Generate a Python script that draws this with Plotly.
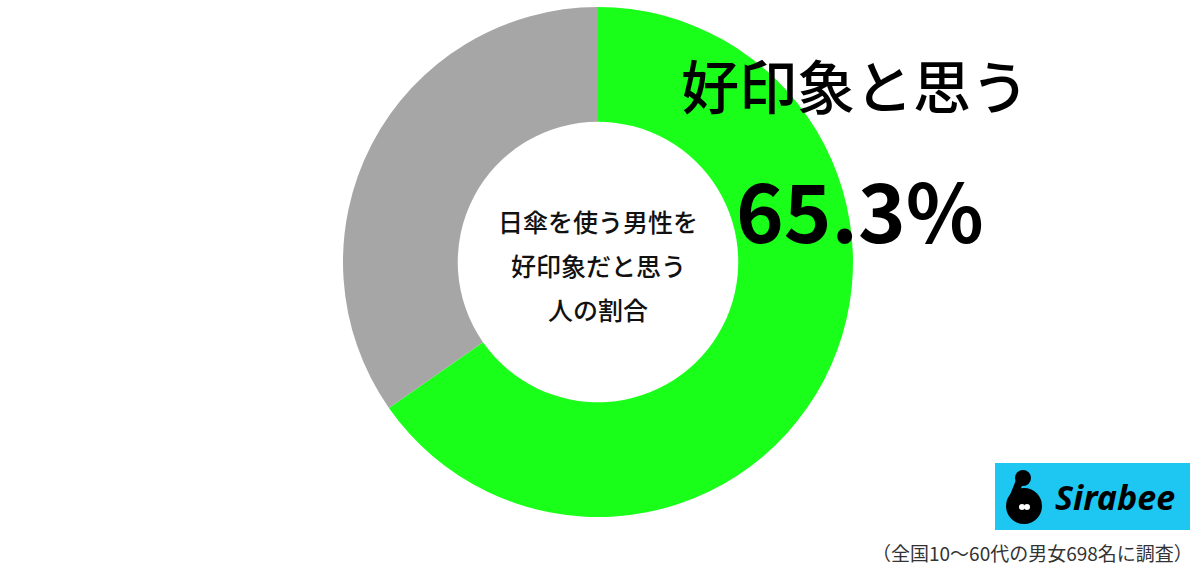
import plotly.graph_objects as go

labels = ["好印象と思う", "思わない"]
values = [65.3, 34.7]
colors = ["#19ff19", "#a6a6a6"]
center_lines = ["日傘を使う男性を", "好印象だと思う", "人の割合"]
headline = "好印象と思う"
headline_value = "65.3%"
footer = "（全国10〜60代の男女698名に調査）"
brand = "Sirabee"

W, H = 1200, 572
cx, cy, R = 598, 262, 255

fig = go.Figure()
fig.add_trace(go.Pie(
    labels=labels, values=values, hole=0.55, sort=False,
    direction="clockwise", rotation=0,
    marker=dict(colors=colors, line=dict(width=0)),
    textinfo="none", hoverinfo="label+percent", showlegend=False,
    domain=dict(x=[(cx - R) / W, (cx + R) / W], y=[(H - cy - R) / H, (H - cy + R) / H]),
))

font_jp = "Noto Sans CJK JP"
for line, yy in zip(center_lines, [221, 265, 309]):
    fig.add_annotation(x=cx / W, y=1 - yy / H, xref="paper", yref="paper",
                       text=line, showarrow=False,
                       font=dict(family=font_jp, size=25, color="#111", weight=500),
                       xanchor="center", yanchor="middle")
fig.add_annotation(x=855 / W, y=1 - 84 / H, xref="paper", yref="paper",
                   text=headline, showarrow=False,
                   font=dict(family=font_jp, size=58, color="#000", weight=500),
                   xanchor="center", yanchor="middle")
fig.add_annotation(x=860 / W, y=1 - 207 / H, xref="paper", yref="paper",
                   text=headline_value, showarrow=False,
                   font=dict(family=font_jp, size=81, color="#000", weight=700),
                   xanchor="center", yanchor="middle")
fig.add_annotation(x=1195 / W, y=1 - 552 / H, xref="paper", yref="paper",
                   text=footer, showarrow=False,
                   font=dict(family=font_jp, size=19, color="#333"),
                   xanchor="right", yanchor="middle")

# logo box
fig.add_shape(type="rect", xref="paper", yref="paper",
              x0=995 / W, x1=1190 / W, y0=1 - 530 / H, y1=1 - 463 / H,
              fillcolor="#1ec6f2", line=dict(width=0), layer="above")
# icon
fig.add_shape(type="circle", xref="paper", yref="paper",
              x0=1006 / W, x1=1042 / W, y0=1 - 524 / H, y1=1 - 488 / H,
              fillcolor="#000", line=dict(width=0), layer="above")
fig.add_shape(type="circle", xref="paper", yref="paper",
              x0=1015 / W, x1=1031 / W, y0=1 - 486 / H, y1=1 - 470 / H,
              fillcolor="#000", line=dict(width=0), layer="above")
fig.add_shape(type="path", xref="paper", yref="paper",
              path=f"M {1016/W},{1-480/H} L {1008/W},{1-500/H} L {1016/W},{1-498/H} L {1024/W},{1-482/H} Z",
              fillcolor="#000", line=dict(width=0), layer="above")
fig.add_shape(type="circle", xref="paper", yref="paper",
              x0=1019 / W, x1=1025 / W, y0=1 - 510 / H, y1=1 - 504 / H,
              fillcolor="#fff", line=dict(width=0), layer="above")
fig.add_shape(type="circle", xref="paper", yref="paper",
              x0=1024 / W, x1=1030 / W, y0=1 - 510 / H, y1=1 - 504 / H,
              fillcolor="#fff", line=dict(width=0), layer="above")
fig.add_annotation(x=1115 / W, y=1 - 497 / H, xref="paper", yref="paper",
                   text="<b><i>" + brand + "</i></b>", showarrow=False,
                   font=dict(family="Noto Sans", size=34, color="#000"),
                   xanchor="center", yanchor="middle")

fig.update_layout(width=W, height=H, margin=dict(l=0, r=0, t=0, b=0),
                  paper_bgcolor="#fff", plot_bgcolor="#fff")
fig.write_html("out.html", config={"displayModeBar": False},
               post_script="document.body.style.margin='0';")
